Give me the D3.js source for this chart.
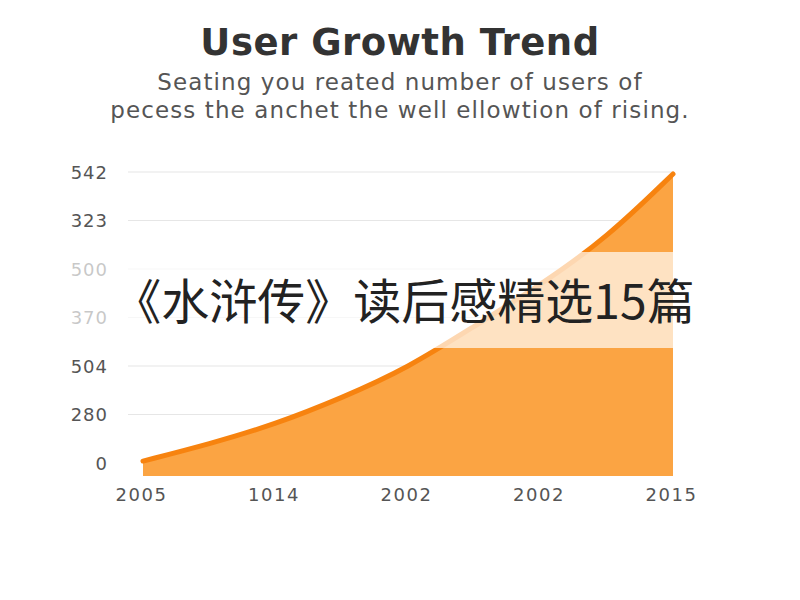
<!DOCTYPE html>
<html lang="en">
<head>
    <meta charset="UTF-8">
    <script src="https://d3js.org/d3.v7.min.js" charset="utf-8"></script>
    <title>User Growth Trend</title>
    <style>
        html, body { margin: 0; padding: 0; background: #fff; }
        svg { display: block; }
    </style>
</head>
<body>
<div id="chart"></div>
<script>
    // tick labels as printed on the chart (bottom to top)
    const yTickLabels = ["0", "280", "504", "370", "500", "323", "542"];
    const xTickLabels = ["2005", "1014", "2002", "2002", "2015"];

    // curve: position along x (tick index) and users
    const xPos = [0, 0.5, 1, 1.5, 2, 2.5, 3, 3.5, 4];
    const users = [4, 39, 80, 134, 196, 282, 367, 464, 596];

    const title = "User Growth Trend";
    const subtitle = ["Seating you reated number of users of",
                      "pecess the anchet the well ellowtion of rising."];
    const overlayText = "《水浒传》读后感精选15篇";

    const width = 800;
    const height = 600;

    const svg = d3.select("#chart").append("svg")
        .attr("width", width)
        .attr("height", height);

    const x = d3.scaleLinear().domain([0, 4]).range([143, 673]);
    const y = d3.scaleLinear().domain([0, 600]).range([463, 172]);
    const baseY = 476;

    // title + subtitle
    svg.append("text")
        .attr("x", 400).attr("y", 55)
        .attr("text-anchor", "middle")
        .style("font-family", "'DejaVu Sans', sans-serif")
        .style("font-weight", 700)
        .style("font-size", "37px")
        .style("letter-spacing", "0.5px")
        .style("fill", "#333")
        .text(title);

    svg.selectAll(".sub")
        .data(subtitle)
        .enter()
        .append("text")
        .attr("class", "sub")
        .attr("x", 400)
        .attr("y", (d, i) => 90 + i * 28)
        .attr("text-anchor", "middle")
        .style("font-family", "'DejaVu Sans', sans-serif")
        .style("font-size", "23px")
        .style("letter-spacing", "1.1px")
        .style("fill", "#555")
        .text(d => d);

    // gridlines and y labels
    const yTicks = d3.range(yTickLabels.length).map(i => i * 100);

    svg.selectAll(".grid")
        .data(yTicks.slice(1))
        .enter()
        .append("line")
        .attr("class", "grid")
        .attr("x1", 128).attr("x2", 672)
        .attr("y1", d => y(d)).attr("y2", d => y(d))
        .attr("stroke", "#e6e6e6")
        .attr("stroke-width", 1.2);

    const yAxis = d3.axisLeft(y)
        .tickValues(yTicks)
        .tickFormat((d, i) => yTickLabels[i])
        .tickSize(0)
        .tickPadding(0);

    const yG = svg.append("g")
        .attr("transform", "translate(108,0)")
        .call(yAxis);
    yG.select(".domain").remove();
    yG.selectAll("text")
        .attr("dy", "0.35em")
        .style("font-family", "'DejaVu Sans', sans-serif")
        .style("font-size", "18px")
        .style("letter-spacing", "1px")
        .style("fill", "#555");

    const xAxis = d3.axisBottom(x)
        .tickValues(d3.range(xTickLabels.length))
        .tickFormat((d, i) => xTickLabels[i])
        .tickSize(0)
        .tickPadding(0);

    const xG = svg.append("g")
        .attr("transform", "translate(-2,488)")
        .call(xAxis);
    xG.select(".domain").remove();
    xG.selectAll("text")
        .attr("dy", "0.71em")
        .style("font-family", "'DejaVu Sans', sans-serif")
        .style("font-size", "18px")
        .style("letter-spacing", "1.5px")
        .style("fill", "#555");

    // area + line
    const pts = xPos.map((d, i) => ({x: d, v: users[i]}));

    const area = d3.area()
        .x(d => x(d.x))
        .y0(baseY)
        .y1(d => y(d.v))
        .curve(d3.curveBasis);

    const line = d3.line()
        .x(d => x(d.x))
        .y(d => y(d.v))
        .curve(d3.curveBasis);

    svg.append("path")
        .datum(pts)
        .attr("d", area)
        .attr("fill", "#fba443");

    svg.append("path")
        .datum(pts)
        .attr("d", line)
        .attr("fill", "none")
        .attr("stroke", "#f7830f")
        .attr("stroke-width", 5)
        .attr("stroke-linecap", "round");

    // semi transparent band with the overlay caption
    svg.append("rect")
        .attr("x", 0).attr("y", 252)
        .attr("width", 677).attr("height", 96)
        .attr("fill", "#fff")
        .attr("opacity", 0.68);

    svg.append("text")
        .attr("x", 404).attr("y", 302)
        .attr("dy", "0.36em")
        .attr("text-anchor", "middle")
        .style("font-family", "'Noto Sans CJK SC', sans-serif")
        .style("font-size", "48px")
        .style("fill", "#222")
        .text(overlayText);
</script>
</body>
</html>
